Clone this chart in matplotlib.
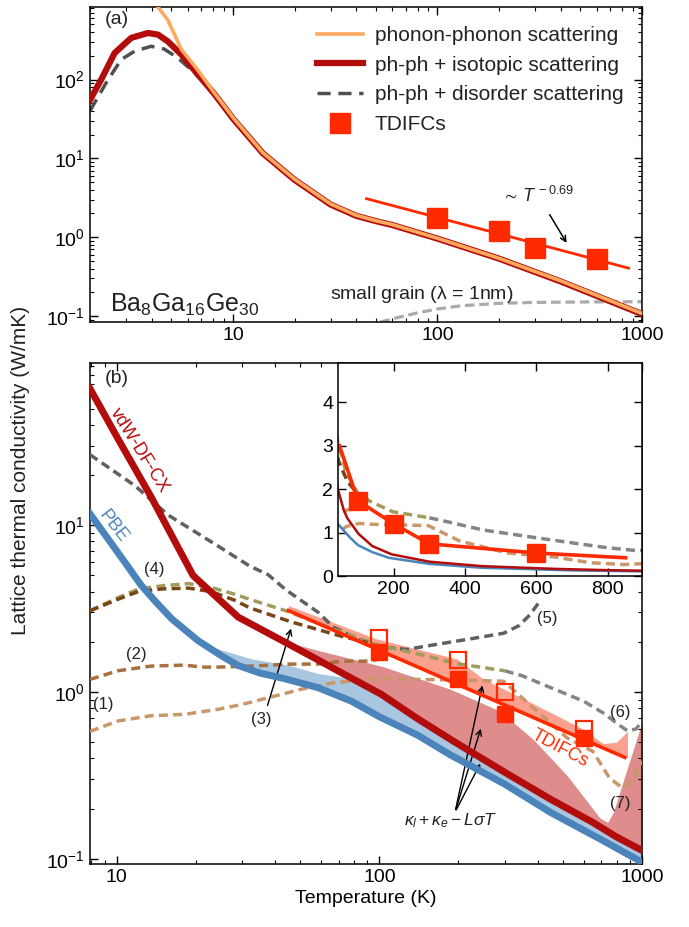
import numpy as np
import matplotlib
matplotlib.use("Agg")
import matplotlib.pyplot as plt
from matplotlib.ticker import LogLocator, NullFormatter, FuncFormatter

plt.rcParams['font.family'] = ['Liberation Sans', 'DejaVu Sans']
plt.rcParams['mathtext.fontset'] = 'custom'
plt.rcParams['mathtext.rm'] = 'Liberation Sans'
plt.rcParams['mathtext.it'] = 'Liberation Sans:italic'
plt.rcParams['mathtext.default'] = 'regular'
plt.rcParams['text.color'] = '#222222'

# ---------------- panel (a) data ----------------
T_pp = [4.2, 4.8, 5.6, 6.7, 8.1, 10, 14, 20, 30, 40, 50, 60, 100, 200, 400, 1000]
k_pp = [900, 570, 240, 134, 68, 33, 11.8, 5.45, 2.65, 1.9, 1.62, 1.45, 0.97, 0.54, 0.28, 0.108]

T_iso = [2.0, 2.27, 2.64, 3.18, 3.84, 4.3, 4.8, 5.6, 6.7, 8.1, 10, 14, 20, 30, 40, 50, 60, 100, 200, 400, 1000]
k_iso = [55, 100, 217, 337, 389, 371, 305, 207, 118, 66, 32, 11.6, 5.35, 2.6, 1.87, 1.6, 1.43, 0.96, 0.535, 0.275, 0.106]

T_dis = [2.0, 2.4, 2.84, 3.3, 3.98, 4.62, 5.37, 6.24, 7.25, 8.1, 10, 14, 20, 30, 40, 50, 60, 100, 200, 400, 1000]
k_dis = [40, 91, 179, 228, 264, 243, 188, 134, 91, 64, 31, 11.4, 5.3, 2.58, 1.86, 1.59, 1.42, 0.95, 0.53, 0.273, 0.105]

T_grain = [45, 60, 80, 100, 130, 200, 300, 500, 1000]
k_grain = [0.075, 0.092, 0.110, 0.123, 0.135, 0.145, 0.149, 0.151, 0.152]

T_tdifc = [100, 200, 300, 600]
k_tdifc = [1.73, 1.2, 0.74, 0.53]
T_fit = [45, 860]
k_fit = [3.08, 0.405]

# ---------------- panel (b) data ----------------
T_vdw = [7.9, 10.1, 13.5, 19.5, 29, 43.7, 60, 70, 101.5, 140, 194, 300, 447, 650, 800, 980]
k_vdw = [66, 33, 14.8, 5.0, 2.81, 1.99, 1.52, 1.33, 0.97, 0.69, 0.50, 0.33, 0.228, 0.165, 0.135, 0.114]

T_pbe = [7.9, 10, 12.4, 14, 16.2, 20.4, 25, 29, 35, 43.7, 58.5, 78.3, 100, 140, 186, 300, 447, 700, 980]
k_pbe = [11.7, 7.0, 4.35, 3.5, 2.74, 2.03, 1.65, 1.44, 1.3, 1.2, 1.06, 0.88, 0.71, 0.55, 0.42, 0.28, 0.19, 0.13, 0.097]

T_pbe_band = [22, 32.6, 45, 58.5, 100, 200, 450, 1000]
k_pbe_band = [1.9, 1.58, 1.45, 1.29, 1.14, 0.58, 0.26, 0.125]

T_vdw_band = [44, 58, 103, 186, 287, 385, 519, 692, 740, 778, 880, 1000]
k_vdw_band = [2.0, 1.78, 1.42, 1.04, 0.77, 0.52, 0.315, 0.175, 0.165, 0.19, 0.35, 0.66]

T_td_band = [45, 97.6, 197, 248, 314, 447, 595, 712, 800, 880]
k_td_band = [3.3, 2.08, 1.58, 1.2, 1.0, 0.755, 0.6, 0.49, 0.5, 0.58]

T_open = [100, 200, 300, 600]
k_open = [2.1, 1.56, 1.0, 0.6]

T_c5 = [7.9, 11.7, 15.7, 24.3, 32, 37.7, 44, 58.5, 66.7, 84.5, 100, 127, 165, 221, 297, 340, 374, 408]
k_c5 = [26.5, 17.3, 11.5, 7.5, 5.7, 5.05, 4.1, 3.0, 2.45, 2.05, 1.87, 1.8, 1.93, 2.08, 2.25, 2.5, 2.9, 3.5]

T_c4 = [7.9, 10.1, 12.05, 14.8, 18.7, 22.9, 28.1, 32, 44, 67, 100, 134, 197, 300]
k_c4 = [3.07, 3.68, 4.14, 4.33, 4.47, 4.23, 3.86, 3.6, 3.07, 2.38, 1.9, 1.72, 1.48, 1.34]

T_c6 = [300, 350, 450, 600, 720, 800, 880, 950, 1000]
k_c6 = [1.34, 1.25, 1.06, 0.88, 0.74, 0.65, 0.585, 0.6, 0.67]

T_c3 = [7.9, 10.1, 12.05, 14.8, 18.7, 22.9, 28.1, 32, 44, 47, 70.8, 90]
k_c3 = [3.07, 3.6, 4.0, 4.15, 4.2, 4.0, 3.55, 3.2, 2.7, 2.61, 2.17, 1.98]

T_c2 = [7.9, 10.1, 13.5, 18.2, 21, 24.3, 32.6, 45.6, 58.5, 72.5, 88, 100]
k_c2 = [1.19, 1.34, 1.43, 1.45, 1.41, 1.41, 1.43, 1.47, 1.47, 1.53, 1.53, 1.57]

T_c1 = [7.9, 10.1, 13.5, 18.2, 24.3, 29.8, 37.7, 50.5, 67.6, 77, 103, 138, 197, 297,
        385, 519, 650, 752, 844, 915, 1000]
k_c1 = [0.58, 0.67, 0.72, 0.735, 0.787, 0.84, 0.924, 1.04, 1.14, 1.16, 1.21, 1.19, 1.18, 1.16,
        0.805, 0.53, 0.44, 0.305, 0.265, 0.29, 0.385]

T_inset_line = [48, 100, 200, 300, 600, 850]
k_inset_line = [3.0, 1.73, 1.2, 0.74, 0.53, 0.42]

# colours
c_orange = '#FDAA5E'
c_dred = '#B30C0C'
c_gray = '#505050'
c_red = '#FF2A00'
c_blue = '#4A84BA'
c_olive = '#A29C5C'
c_brown = '#7A4515'
c_mbrown = '#A8703E'
c_tan = '#C9976A'
c_g5 = '#606060'
c_g6 = '#858585'


def loginterp(x, xp, fp):
    return np.exp(np.interp(np.log(x), np.log(xp), np.log(fp)))


def style_axes(ax):
    ax.tick_params(which='both', direction='in', top=True, right=True, labelsize=14)
    ax.tick_params(which='major', length=6, width=1)
    ax.tick_params(which='minor', length=3, width=0.8)
    for s in ax.spines.values():
        s.set_linewidth(1.1)


def log_axes(ax):
    ax.set_xscale('log')
    ax.set_yscale('log')
    ax.xaxis.set_major_formatter(FuncFormatter(lambda v, p: f'{v:g}'))
    ax.xaxis.set_minor_formatter(NullFormatter())
    ax.yaxis.set_minor_locator(LogLocator(base=10, subs=np.arange(2, 10), numticks=20))
    ax.yaxis.set_minor_formatter(NullFormatter())


fig = plt.figure(figsize=(6.89, 9.27), dpi=100)
ax_a = fig.add_axes([0.1306, 0.6526, 0.8012, 0.3398])
ax_b = fig.add_axes([0.1306, 0.0680, 0.8012, 0.5404])
ax_in = fig.add_axes([0.4906, 0.3786, 0.4412, 0.2298])

# ---------------- panel (a) ----------------
ax_a.plot(T_dis, k_dis, color=c_gray, lw=2.5, dashes=(3.8, 2.2), label='ph-ph + disorder scattering', zorder=2)
ax_a.plot(T_iso, k_iso, color=c_dred, lw=4.5, label='ph-ph + isotopic scattering', zorder=3)
ax_a.plot(T_pp, k_pp, color=c_orange, lw=2.6, label='phonon-phonon scattering', zorder=4)
ax_a.plot(T_grain, k_grain, color='#AAAAAA', lw=2.3, dashes=(3, 1.5), zorder=2)
ax_a.plot(T_fit, k_fit, color=c_red, lw=2, zorder=5)
ax_a.plot(T_tdifc, k_tdifc, 's', color=c_red, ms=14, mec=c_red, label='TDIFCs', zorder=6)
log_axes(ax_a)
ax_a.set_xlim(2.0, 1000)
ax_a.set_ylim(0.084, 830)
style_axes(ax_a)
h, l = ax_a.get_legend_handles_labels()
order = [2, 1, 0, 3]
ax_a.legend([h[i] for i in order], [l[i] for i in order], loc='upper right', frameon=False,
            fontsize=15, handlelength=2.2, labelspacing=0.52, borderaxespad=0.5,
            handletextpad=0.55, numpoints=1)
ax_a.text(0.027, 0.96, '(a)', transform=ax_a.transAxes, fontsize=14, va='center')
ax_a.text(0.036, 0.054, 'Ba$_{8}$Ga$_{16}$Ge$_{30}$', transform=ax_a.transAxes, fontsize=18, va='center')
ax_a.text(0.435, 0.089, r'small grain ($\lambda$ = 1nm)', transform=ax_a.transAxes, fontsize=14, va='center')
ax_a.text(311, 3.3, r'$\sim\,\mathit{T}^{\,-0.69}$', fontsize=13, ha='center', va='center')
ax_a.annotate('', xy=(435, 0.79), xytext=(348, 2.07),
              arrowprops=dict(arrowstyle='->', color='black', lw=1.1))

# ---------------- panel (b) ----------------
Tb = np.array(T_pbe_band)
ax_b.fill_between(Tb, loginterp(Tb, T_pbe, k_pbe), k_pbe_band, color='#A9C6E0', lw=0, zorder=1)
Tv = np.array(T_vdw_band)
ax_b.fill_between(Tv, loginterp(Tv, T_vdw, k_vdw), k_vdw_band, color='#DE8C8C', lw=0, zorder=1.5)
Tt = np.array(T_td_band)
ax_b.fill_between(Tt, loginterp(Tt, T_fit, k_fit), k_td_band, color='#F9A08E', lw=0, zorder=1.6)

dash_b = (2.6, 1.5)
ax_b.plot(T_c5, k_c5, color=c_g5, lw=2.5, dashes=dash_b, zorder=3)
ax_b.plot(T_c6, k_c6, color=c_g6, lw=2.5, dashes=dash_b, zorder=3)
ax_b.plot(T_c4, k_c4, color=c_olive, lw=2.5, dashes=dash_b, zorder=3)
ax_b.plot(T_c3, k_c3, color=c_brown, lw=2.5, dashes=dash_b, zorder=3)
ax_b.plot(T_c2, k_c2, color=c_mbrown, lw=2.5, dashes=dash_b, zorder=3)
ax_b.plot(T_c1, k_c1, color=c_tan, lw=2.5, dashes=dash_b, zorder=3)

ax_b.plot(T_pbe, k_pbe, color=c_blue, lw=5, zorder=4)
ax_b.plot(T_vdw, k_vdw, color=c_dred, lw=5, zorder=4)
ax_b.plot(T_fit, k_fit, color=c_red, lw=2.6, zorder=5)
ax_b.plot(T_open, k_open, 's', ms=12, mfc='none', mec=c_red, mew=1.6, zorder=5)
ax_b.plot(T_tdifc, k_tdifc, 's', color=c_red, ms=12, zorder=6)

log_axes(ax_b)
ax_b.set_xlim(7.9, 1000)
ax_b.set_ylim(0.093, 94)
ax_b.set_xlabel('Temperature (K)', fontsize=14, labelpad=3)
style_axes(ax_b)

ax_b.text(0.027, 0.97, '(b)', transform=ax_b.transAxes, fontsize=14, va='center')
ax_b.text(12.2, 28, 'vdW-DF-CX', color=c_dred, fontsize=13, rotation=-58, ha='center', va='center')
ax_b.text(9.7, 9.9, 'PBE', color=c_blue, fontsize=13, rotation=-52, ha='center', va='center')
ax_b.text(487, 0.46, 'TDIFCs', color=c_red, fontsize=13, rotation=-28, ha='center', va='center')
for lab, tx, ky in [('(4)', 13.9, 5.4), ('(2)', 11.9, 1.68), ('(1)', 8.9, 0.84),
                    ('(3)', 35.6, 0.68), ('(5)', 434, 2.74), ('(6)', 824, 0.75), ('(7)', 824, 0.215)]:
    ax_b.text(tx, ky, lab, fontsize=12, ha='center', va='center')
ax_b.annotate('', xy=(46.4, 2.49), xytext=(37.2, 0.80),
              arrowprops=dict(arrowstyle='->', color='black', lw=1.0))
ax_b.text(186, 0.169, r'$\mathit{\kappa_l + \kappa_e - L\sigma T}$', fontsize=12.5, ha='center', va='center')
for tip in [(248, 1.137), (245, 0.625), (245, 0.385)]:
    ax_b.annotate('', xy=tip, xytext=(194, 0.19),
                  arrowprops=dict(arrowstyle='->', color='black', lw=1.0))

# ---------------- inset ----------------
ax_in.plot(T_c6, k_c6, color=c_g6, lw=2.5, dashes=dash_b)
ax_in.plot(T_c1, k_c1, color=c_tan, lw=2.5, dashes=dash_b)
ax_in.plot(T_c2, k_c2, color=c_tan, lw=2.5, dashes=dash_b)
ax_in.plot(T_c4, k_c4, color=c_olive, lw=2.5, dashes=dash_b)
ax_in.plot(T_c3, k_c3, color=c_brown, lw=2.5, dashes=dash_b)
ax_in.plot(T_pbe, k_pbe, color=c_blue, lw=1.8)
ax_in.plot(T_vdw, k_vdw, color=c_dred, lw=1.8)
ax_in.plot(T_inset_line, k_inset_line, color=c_red, lw=2.6)
ax_in.plot(T_tdifc, k_tdifc, 's', color=c_red, ms=13)
ax_in.set_xlim(44, 896)
ax_in.set_ylim(0, 4.9)
ax_in.set_xticks([200, 400, 600, 800])
ax_in.set_yticks([0, 1, 2, 3, 4])
style_axes(ax_in)

fig.text(0.03, 0.493, 'Lattice thermal conductivity (W/mK)', rotation=90, fontsize=15,
         ha='center', va='center')

fig.savefig('out.png', dpi=100)
